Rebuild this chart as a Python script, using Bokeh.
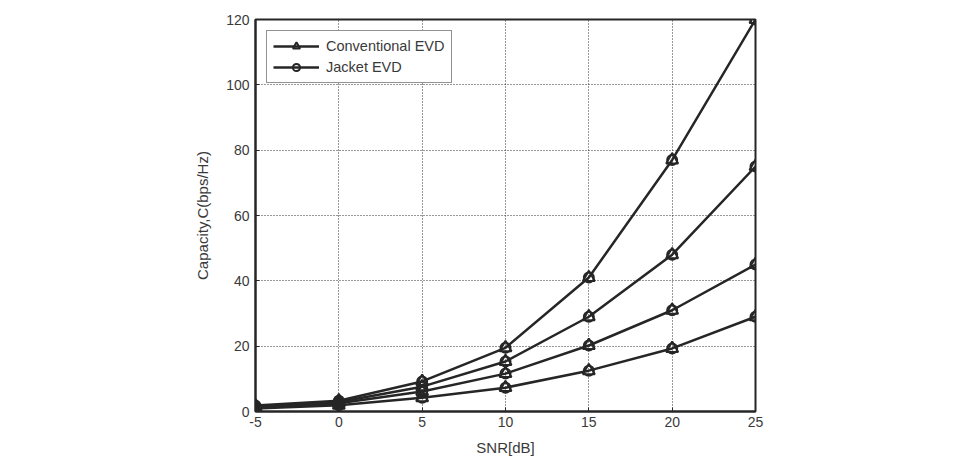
from bokeh.plotting import figure
from bokeh.models import Legend, LegendItem, FixedTicker
from bokeh.embed import file_html
from bokeh.resources import INLINE

snr = [-5, 0, 5, 10, 15, 20, 25]
cap1 = [1.8, 3.3, 9.2, 19.5, 41, 77, 120]
cap2 = [1.5, 2.9, 7.6, 15.3, 29, 48, 75]
cap3 = [1.2, 2.5, 6.1, 11.6, 20.2, 31, 45]
cap4 = [0.9, 1.9, 4.2, 7.3, 12.5, 19.3, 29]
series = [cap1, cap2, cap3, cap4]
x_ticks = [-5, 0, 5, 10, 15, 20, 25]
y_ticks = [0, 20, 40, 60, 80, 100, 120]

FONT = "Liberation Sans"
INK = "#262626"

p = figure(width=963, height=458, output_backend="svg", toolbar_location=None,
           x_range=(-5, 25), y_range=(0, 120),
           min_border_left=255, min_border_right=208, min_border_top=19, min_border_bottom=46)
p.background_fill_color = "white"
p.border_fill_color = "white"
p.outline_line_color = INK
p.outline_line_width = 2

for ax in (p.xaxis, p.yaxis):
    ax.major_label_text_font = FONT
    ax.major_label_text_font_size = "14px"
    ax.major_label_text_color = "#3a3a3a"
    ax.axis_label_text_font = FONT
    ax.axis_label_text_font_size = "15px"
    ax.axis_label_text_font_style = "normal"
    ax.axis_label_text_color = "#3a3a3a"
    ax.axis_line_color = INK
    ax.axis_line_width = 2
    ax.major_tick_in = 4
    ax.major_tick_out = 0
    ax.major_tick_line_color = INK
    ax.minor_tick_line_color = None

p.xaxis.ticker = FixedTicker(ticks=x_ticks)
p.yaxis.ticker = FixedTicker(ticks=y_ticks)
p.xaxis.major_label_overrides = {t: str(t) for t in x_ticks}
p.xaxis.axis_label = "SNR[dB]"
p.yaxis.axis_label = "Capacity,C(bps/Hz)"
p.xaxis.major_label_standoff = 5
p.yaxis.major_label_standoff = 6
p.yaxis.axis_label_standoff = 12
p.xaxis.axis_label_standoff = 9

p.xgrid.ticker = FixedTicker(ticks=x_ticks)
p.ygrid.ticker = FixedTicker(ticks=y_ticks)
for g in (p.xgrid, p.ygrid):
    g.grid_line_color = "#333333"
    g.grid_line_dash = "1 2"
    g.grid_line_width = 1

conv_r = []
jack_r = []
for vals in series:
    l1 = p.line(snr, vals, line_color=INK, line_width=2.5)
    m1 = p.scatter(snr, vals, marker="triangle", size=12, fill_color=None,
                   line_color=INK, line_width=2)
    m2 = p.scatter(snr, vals, marker="circle", size=10, fill_color=None,
                   line_color=INK, line_width=2)
    conv_r.append((l1, m1))
    jack_r.append((l1, m2))

legend = Legend(items=[LegendItem(label="Conventional EVD", renderers=[conv_r[0][0], conv_r[0][1]]),
                       LegendItem(label="Jacket EVD", renderers=[jack_r[0][0], jack_r[0][1]])],
                location="top_left")
legend.label_text_font = FONT
legend.label_text_font_size = "14.5px"
legend.label_text_color = "#3a3a3a"
legend.border_line_color = INK
legend.border_line_width = 1.5
legend.background_fill_alpha = 1
legend.glyph_width = 46
legend.glyph_height = 18
legend.spacing = 3
legend.padding = 6
legend.margin = 11
legend.label_standoff = 7
p.add_layout(legend)

open("out.html", "w").write(file_html(p, INLINE))
